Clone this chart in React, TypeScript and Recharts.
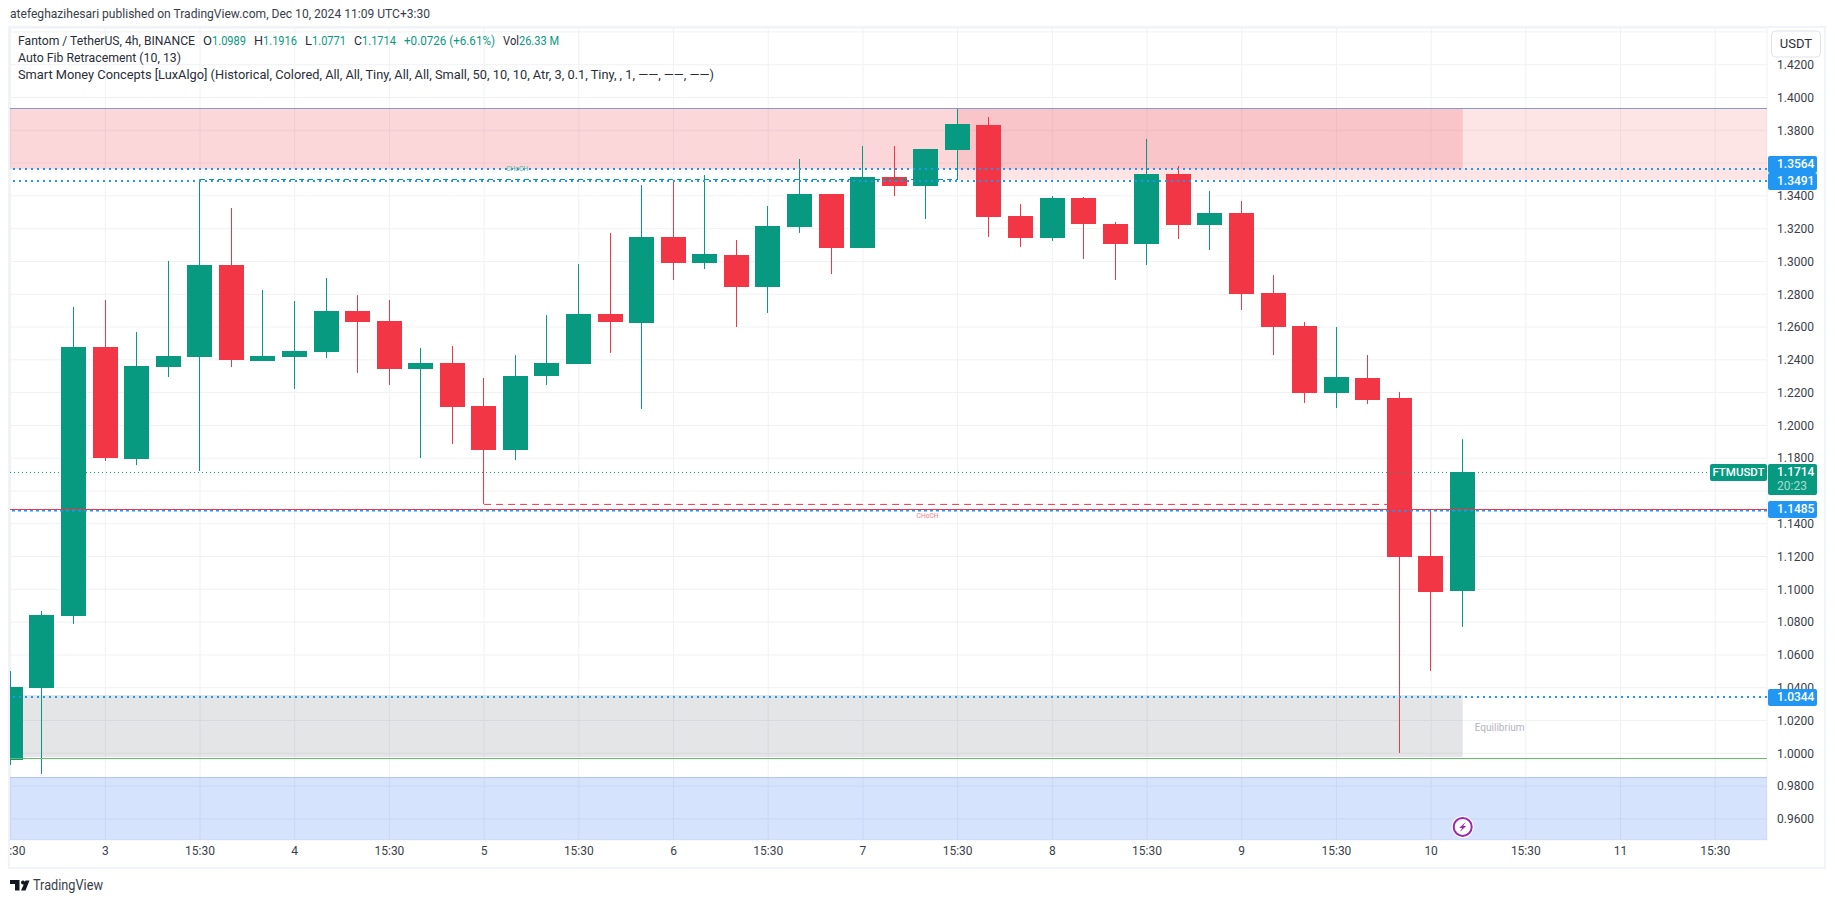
import React from "react";
import {
  ComposedChart,
  Bar,
  XAxis,
  YAxis,
  CartesianGrid,
  ReferenceLine,
  ReferenceArea,
  ReferenceDot,
} from "recharts";

const opens = [0.9959,1.0398,1.0837,1.2478,1.1795,1.2356,1.2417,1.2978,1.2393,1.2417,1.2448,1.2698,1.2637,1.2344,1.2381,1.2118,1.185,1.2301,1.2375,1.268,1.2625,1.3149,1.2991,1.3039,1.2844,1.321,1.3411,1.3082,1.3515,1.346,1.368,1.3832,1.3277,1.3143,1.3387,1.3228,1.3106,1.3533,1.3222,1.3296,1.2808,1.2606,1.2198,1.2289,1.2167,1.1203,1.0989];
const highs = [1.0502,1.0868,1.2722,1.2765,1.257,1.3003,1.3501,1.3326,1.2826,1.2759,1.2899,1.2795,1.2765,1.2472,1.2484,1.2289,1.2429,1.2673,1.2984,1.3174,1.3466,1.3491,1.3527,1.3131,1.3338,1.3625,1.3411,1.3704,1.3704,1.3686,1.3936,1.3881,1.335,1.3399,1.3393,1.3241,1.3747,1.3582,1.343,1.3369,1.2917,1.2631,1.26,1.2429,1.2204,1.149,1.1916];
const lows = [0.9929,0.9874,1.0789,1.1783,1.1758,1.2295,1.1722,1.2356,1.2393,1.2222,1.2411,1.232,1.2246,1.1801,1.1887,1.1521,1.1789,1.2246,1.2375,1.2442,1.21,1.2887,1.2954,1.26,1.2686,1.3174,1.2923,1.3082,1.3399,1.3259,1.3497,1.3149,1.3088,1.3125,1.3015,1.2887,1.2978,1.3137,1.307,1.2704,1.2429,1.2137,1.2106,1.2131,1.0002,1.0502,1.0771];
const closes = [1.0404,1.0844,1.2478,1.1801,1.2362,1.2423,1.2978,1.2399,1.2423,1.2454,1.2698,1.2631,1.2344,1.2381,1.2112,1.185,1.2301,1.2381,1.268,1.2631,1.3149,1.2991,1.3045,1.2844,1.3216,1.3411,1.3082,1.3515,1.346,1.3686,1.3838,1.3271,1.3143,1.3387,1.3228,1.3106,1.3533,1.3222,1.3296,1.2801,1.26,1.2198,1.2295,1.2155,1.1197,1.0984,1.1714];

const priceTicks = [0.96,0.98,1.0,1.02,1.04,1.06,1.08,1.1,1.12,1.14,1.16,1.18,1.2,1.22,1.24,1.26,1.28,1.3,1.32,1.34,1.36,1.38,1.4,1.42,1.44];
const timeTickPositions = [0,3,6,9,12,15,18,21,24,27,30,33,36,39,42,45,48,51,54];
const timeTickLabels = ["15:30","3","15:30","4","15:30","5","15:30","6","15:30","7","15:30","8","15:30","9","15:30","10","15:30","11","15:30"];

const X_MIN = -0.02;
const X_MAX = 55.64;
const Y_MIN = 0.9471;
const Y_MAX = 1.4424;

const GREEN = "#089981";
const RED = "#f23645";
const BLUE = "#2196f3";

const candles = opens.map((open, i) => ({
  i,
  open,
  high: highs[i],
  low: lows[i],
  close: closes[i],
  range: [lows[i], highs[i]],
}));

const Candle = (props: any) => {
  const { x, y, width, height, payload } = props;
  const { open, high, low, close } = payload;
  const scale = (v: number) => y + ((high - v) / (high - low)) * height;
  const color = close >= open ? GREEN : RED;
  const cx = x + width / 2;
  const top = Math.round(scale(Math.max(open, close)));
  const bottom = Math.round(scale(Math.min(open, close)));
  const wx = Math.round(cx - 0.5);
  return (
    <g>
      <rect x={wx} y={y} width={1} height={height} fill={color} />
      <rect x={Math.round(cx - 12.5)} y={top} width={25} height={Math.max(bottom - top, 1)} fill={color} />
    </g>
  );
};

const XTick = (props: any) => {
  const { x, y, payload } = props;
  const label = timeTickLabels[timeTickPositions.indexOf(payload.value)];
  return (
    <g>
      <clipPath id={`xt${payload.value}`}>
        <rect x={10} y={840} width={1760} height={28} />
      </clipPath>
      <text
        x={x}
        y={y + 4}
        textAnchor="middle"
        dominantBaseline="middle"
        fontFamily="Roboto"
        fontSize={12}
        fill="#3a3e49"
        clipPath={`url(#xt${payload.value})`}
      >
        {label}
      </text>
    </g>
  );
};

const priceTag = (text: string, fill: string, sub?: string, dy = 0) => (p: any) => {
  const h = 17;
  const top = Math.round(p.cy - h / 2) + dy;
  return (
    <g>
      <rect x={p.cx + 1} y={top} width={49} height={sub ? 31 : h} rx={2} fill={fill} />
      <text x={p.cx + 10} y={top + 9} dominantBaseline="middle" fontFamily="Roboto" fontSize={12} fontWeight={500} fill="#fff">
        {text}
      </text>
      {sub ? (
        <text x={p.cx + 10} y={top + 23} dominantBaseline="middle" fontFamily="Roboto" fontSize={12} fill="#a8dbcf">
          {sub}
        </text>
      ) : null}
    </g>
  );
};

const symbolTag = (p: any) => {
  const top = Math.round(p.cy - 8.5);
  return (
    <g>
      <rect x={p.cx - 57} y={top} width={57} height={17} rx={2} fill={GREEN} />
      <text x={p.cx - 28.5} y={top + 9} textAnchor="middle" dominantBaseline="middle" fontFamily="Roboto" fontSize={11.5} fontWeight={500} fill="#fff">
        FTMUSDT
      </text>
    </g>
  );
};

const tinyText = (text: string, color: string, size: number, w: number) => (p: any) => (
  <text x={p.cx} y={p.cy} dominantBaseline="middle" fontFamily="Roboto" fontSize={size} fill={color} textLength={w} lengthAdjust="spacingAndGlyphs">
    {text}
  </text>
);

const Bolt = (p: any) => (
  <g>
    <circle cx={p.cx} cy={p.cy} r={11} fill="#fff" />
    <circle cx={p.cx} cy={p.cy} r={9} fill="#fff" stroke="#9c27b0" strokeWidth={2} />
    <path
      d={`M${p.cx + 3} ${p.cy - 5} L${p.cx - 3.5} ${p.cy + 1} L${p.cx - 0.5} ${p.cy + 1} L${p.cx - 3} ${p.cy + 5} L${p.cx + 3.5} ${p.cy - 1} L${p.cx + 0.5} ${p.cy - 1} Z`}
      fill="#9c27b0"
    />
  </g>
);

const headerPieces: [string, number, number, number, string][] = [
  ["atefeghazihesari published on TradingView.com, Dec 10, 2024 11:09 UTC+3:30", 10, 15, 420, "#3a3e49"],
  ["Fantom / TetherUS, 4h, BINANCE", 18, 42, 177, "#2a2e39"],
  ["O", 203, 42, 9, "#2a2e39"],
  ["1.0989", 212, 42, 34, GREEN],
  ["H", 254, 42, 9, "#2a2e39"],
  ["1.1916", 263, 42, 34, GREEN],
  ["L", 305, 42, 7, "#2a2e39"],
  ["1.0771", 312, 42, 34, GREEN],
  ["C", 354, 42, 8, "#2a2e39"],
  ["1.1714", 362, 42, 34, GREEN],
  ["+0.0726 (+6.61%)", 404, 42, 91, GREEN],
  ["Vol", 503, 42, 16, "#2a2e39"],
  ["26.33 M", 519, 42, 40, GREEN],
  ["Auto Fib Retracement (10, 13)", 18, 59, 163, "#2a2e39"],
  ["Smart Money Concepts [LuxAlgo] (Historical, Colored, All, All, Tiny, All, All, Small, 50, 10, 10, Atr, 3, 0.1, Tiny, , 1, \u2014\u2014, \u2014\u2014, \u2014\u2014)", 18, 76, 696, "#2a2e39"],
];

export default function App() {
  return (
    <div style={{ position: "absolute", left: 0, top: 0, width: 1835, height: 903, overflow: "hidden", background: "#fff" }}>
      <div style={{ position: "absolute", left: 8, top: 26, width: 1818, height: 843, boxSizing: "border-box", border: "2px solid #f0f3fa" }} />
      <div style={{ position: "absolute", left: 0, top: 0 }}>
        <ComposedChart
          width={1835}
          height={903}
          data={candles}
          margin={{ left: 10, top: 28, right: 10, bottom: 35 }}
        >
          <CartesianGrid stroke="#f0f1f4" strokeWidth={1} />
          <XAxis
            dataKey="i"
            type="number"
            domain={[X_MIN, X_MAX]}
            allowDataOverflow
            ticks={timeTickPositions}
            interval={0}
            axisLine={false}
            tickLine={false}
            height={28}
            tick={<XTick />}
          />
          <YAxis
            orientation="right"
            domain={[Y_MIN, Y_MAX]}
            allowDataOverflow
            ticks={priceTicks}
            interval={0}
            width={58}
            axisLine={false}
            tickLine={false}
            tickSize={0}
            tickMargin={10}
            tickFormatter={(v: number) => (v > 1.43 ? "" : v.toFixed(4))}
            tick={{ fontFamily: "Roboto", fontSize: 12, fill: "#3a3e49" }}
          />

          <ReferenceLine y={1.3564} stroke={BLUE} strokeWidth={2} strokeDasharray="2 4" />
          <ReferenceArea x1={X_MIN} x2={46} y1={1.3562} y2={1.3934} fill={RED} fillOpacity={0.2} stroke="none" />
          <ReferenceArea x1={30} x2={X_MAX} y1={1.3499} y2={1.3934} fill="#f77c80" fillOpacity={0.2} stroke="none" />
          <ReferenceArea x1={X_MIN} x2={46} y1={0.9978} y2={1.0356} fill="#787b86" fillOpacity={0.2} stroke="none" />
          <ReferenceArea x1={X_MIN} x2={X_MAX} y1={Y_MIN} y2={0.9855} fill="#2d73f5" fillOpacity={0.2} stroke="none" />

          <ReferenceLine y={1.3933} stroke="#8799cc" strokeWidth={1} />
          <ReferenceLine segment={[{ x: 6, y: 1.35 }, { x: 30, y: 1.35 }]} stroke={GREEN} strokeWidth={1} strokeDasharray="5 4" />
          <ReferenceLine y={1.3491} stroke={BLUE} strokeWidth={2} strokeDasharray="2 4" />
          <ReferenceLine segment={[{ x: 15, y: 1.1518 }, { x: 44, y: 1.1518 }]} stroke={RED} strokeWidth={1} strokeDasharray="7 5" />
          <ReferenceLine y={1.1713} stroke={GREEN} strokeWidth={1} strokeDasharray="1 3" />
          <ReferenceLine y={1.1481} stroke={BLUE} strokeWidth={2} strokeDasharray="3 3" />
          <ReferenceLine y={1.1487} stroke={RED} strokeWidth={1} />
          <ReferenceLine y={1.0344} stroke={BLUE} strokeWidth={2} strokeDasharray="2 4" />
          <ReferenceLine y={0.9968} stroke="#66bb6a" strokeWidth={1} />
          <ReferenceLine y={0.9852} stroke="#b2c6ef" strokeWidth={1} />

          <Bar dataKey="range" barSize={25} isAnimationActive={false} shape={<Candle />} />

          <ReferenceDot x={15.7} y={1.3565} r={0} ifOverflow="visible" shape={tinyText("CHoCH", "#4fb3a1", 7.5, 22)} />
          <ReferenceDot x={28.7} y={1.1445} r={0} ifOverflow="visible" shape={tinyText("CHoCH", "#f27f89", 7.5, 22)} />
          <ReferenceDot x={46.38} y={1.0152} r={0} ifOverflow="visible" shape={tinyText("Equilibrium", "#b2b5be", 10, 50)} />
          <ReferenceDot x={46} y={0.9551} r={0} ifOverflow="visible" shape={Bolt} />
        </ComposedChart>
      </div>

      <div style={{ position: "absolute", left: 0, top: 0 }}>
        <ComposedChart
          width={1835}
          height={903}
          data={candles}
          margin={{ left: 10, top: 28, right: 68, bottom: 63 }}
        >
          <XAxis dataKey="i" type="number" domain={[X_MIN, X_MAX]} allowDataOverflow hide />
          <YAxis domain={[Y_MIN, Y_MAX]} allowDataOverflow hide />
          <ReferenceDot x={X_MAX} y={1.3564} r={0} ifOverflow="visible" shape={priceTag("1.3564", BLUE, undefined, -4)} />
          <ReferenceDot x={X_MAX} y={1.3491} r={0} ifOverflow="visible" shape={priceTag("1.3491", BLUE, undefined, 1)} />
          <ReferenceDot x={X_MAX} y={1.1714} r={0} ifOverflow="visible" shape={priceTag("1.1714", GREEN, "20:23")} />
          <ReferenceDot x={X_MAX} y={1.1714} r={0} ifOverflow="visible" shape={symbolTag} />
          <ReferenceDot x={X_MAX} y={1.1485} r={0} ifOverflow="visible" shape={priceTag("1.1485", BLUE)} />
          <ReferenceDot x={X_MAX} y={1.0344} r={0} ifOverflow="visible" shape={priceTag("1.0344", BLUE, undefined, 1)} />
        </ComposedChart>
      </div>

      <svg width={1835} height={903} style={{ position: "absolute", left: 0, top: 0, pointerEvents: "none" }}>
        {headerPieces.map(([t, x, y, w, c], k) => (
          <text key={k} x={x} y={y} dominantBaseline="middle" fontFamily="Roboto" fontSize={13} fill={c} textLength={w} lengthAdjust="spacingAndGlyphs">
            {t}
          </text>
        ))}
        <rect x={1771.5} y={31} width={49} height={26} rx={4} fill="#fff" stroke="#e0e3eb" strokeWidth={1} />
        <text x={1796} y={44.5} textAnchor="middle" dominantBaseline="middle" fontFamily="Roboto" fontSize={13} fill="#2a2e39">
          USDT
        </text>
        <path d="M10 880 H19.5 V890.5 H15 V884 H10 Z M23 880.5 a2 2 0 1 1 -0.01 0 Z M25.5 880.5 H29.5 L25.5 890.5 H21 Z" fill="#131722" />
        <text x={33} y={886} dominantBaseline="middle" fontFamily="Roboto" fontSize={14} fill="#3a3e49" textLength={70} lengthAdjust="spacingAndGlyphs">
          TradingView
        </text>
      </svg>
    </div>
  );
}
